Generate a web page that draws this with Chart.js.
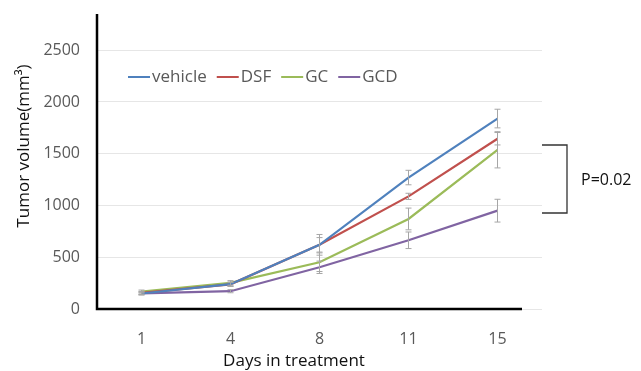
<!DOCTYPE html>
<html>
<head>
<meta charset="utf-8">
<script src="https://cdn.jsdelivr.net/npm/chart.js@4/dist/chart.umd.min.js"></script>
<style>
  html, body { margin: 0; padding: 0; background: #fff; }
  #wrap { width: 641px; height: 371px; }
</style>
</head>
<body>
<div id="wrap"><canvas id="chart" width="641" height="371"></canvas></div>
<script>
const days = ['1', '4', '8', '11', '15'];
const yTicks = [0, 500, 1000, 1500, 2000, 2500];

const vehicle = [150, 240, 620, 1270, 1840];
const dsf = [155, 238, 620, 1088, 1645];
const gc = [168, 252, 452, 870, 1538];
const gcd = [150, 172, 403, 664, 950];

const vehicleErr = [15, 20, 100, 70, 90];
const dsfErr = [15, 20, 70, 30, 60];
const gcErr = [15, 22, 90, 105, 175];
const gcdErr = [12, 15, 60, 80, 110];

const FONT = '"Open Sans", "Liberation Sans", sans-serif';
const GREY = '#595959';

// gray error bars with small caps
const errorBars = {
  id: 'errorBars',
  afterDatasetsDraw(chart) {
    const { ctx, scales: { y } } = chart;
    ctx.save();
    ctx.strokeStyle = '#a6a6a6';
    ctx.lineWidth = 1;
    chart.data.datasets.forEach((ds, i) => {
      const meta = chart.getDatasetMeta(i);
      meta.data.forEach((pt, j) => {
        const v = ds.data[j], e = ds.errors[j];
        const top = y.getPixelForValue(v + e);
        const bot = y.getPixelForValue(v - e);
        ctx.beginPath();
        ctx.moveTo(pt.x, top); ctx.lineTo(pt.x, bot);
        ctx.moveTo(pt.x - 3, top); ctx.lineTo(pt.x + 3, top);
        ctx.moveTo(pt.x - 3, bot); ctx.lineTo(pt.x + 3, bot);
        ctx.stroke();
      });
    });
    ctx.restore();
  }
};

// axis lines, titles, legend and the P-value bracket
const decorations = {
  id: 'decorations',
  afterDraw(chart) {
    const { ctx, chartArea: a } = chart;
    ctx.save();
    ctx.strokeStyle = '#000';
    ctx.lineWidth = 2.5;
    ctx.beginPath();
    ctx.moveTo(a.left, a.top);
    ctx.lineTo(a.left, a.bottom);
    ctx.lineTo(a.right - 20, a.bottom);
    ctx.stroke();

    // legend
    ctx.font = '17px ' + FONT;
    ctx.textBaseline = 'middle';
    ctx.textAlign = 'left';
    let x = 128;
    const ly = 77;
    chart.data.datasets.forEach(ds => {
      ctx.strokeStyle = ds.borderColor;
      ctx.lineWidth = 2;
      ctx.beginPath();
      ctx.moveTo(x, ly); ctx.lineTo(x + 22, ly);
      ctx.stroke();
      ctx.fillStyle = GREY;
      ctx.fillText(ds.label, x + 24, ly);
      x += 24 + ctx.measureText(ds.label).width + 10;
    });

    // bracket
    ctx.strokeStyle = '#333';
    ctx.lineWidth = 1.3;
    ctx.beginPath();
    ctx.moveTo(542, 145); ctx.lineTo(567, 145);
    ctx.lineTo(567, 213); ctx.lineTo(542, 213);
    ctx.stroke();
    ctx.fillStyle = '#111';
    ctx.font = '16px ' + FONT;
    ctx.fillText('P=0.02', 581, 180);

    // axis titles
    ctx.fillStyle = '#111';
    ctx.font = '17px ' + FONT;
    ctx.textAlign = 'center';
    ctx.fillText('Days in treatment', 294, 361);
    ctx.translate(24, 146);
    ctx.rotate(-Math.PI / 2);
    ctx.fillText('Tumor volume(mm\u00B3)', 0, 0);
    ctx.restore();
  }
};

const line = (label, data, errors, color) => ({
  label, data, errors,
  borderColor: color,
  backgroundColor: color,
  borderWidth: 2.2,
  pointRadius: 0,
  tension: 0
});

new Chart(document.getElementById('chart'), {
  type: 'line',
  data: {
    labels: days,
    datasets: [
      line('vehicle', vehicle, vehicleErr, '#4f81bd'),
      line('DSF', dsf, dsfErr, '#c0504d'),
      line('GC', gc, gcErr, '#9bbb59'),
      line('GCD', gcd, gcdErr, '#8064a2')
    ]
  },
  options: {
    responsive: false,
    animation: false,
    layout: { padding: { left: 0, right: 99, top: 14, bottom: 0 } },
    plugins: { legend: { display: false }, tooltip: { enabled: false } },
    scales: {
      x: {
        offset: true,
        grid: { display: false },
        border: { display: false },
        ticks: { color: GREY, font: { family: FONT, size: 16 }, padding: 13 },
        afterFit(s) { s.height = 62; }
      },
      y: {
        min: 0,
        max: 2850,
        grid: { color: '#e6e6e6', drawTicks: false },
        border: { display: false },
        ticks: {
          stepSize: 500, color: GREY, font: { family: FONT, size: 16 }, padding: 17,
          callback: v => String(v)
        },
        afterBuildTicks(s) { s.ticks = yTicks.map(v => ({ value: v })); },
        afterFit(s) { s.width = 97; s.paddingTop = 0; s.paddingBottom = 0; }
      }
    }
  },
  plugins: [errorBars, decorations]
});
</script>
</body>
</html>
